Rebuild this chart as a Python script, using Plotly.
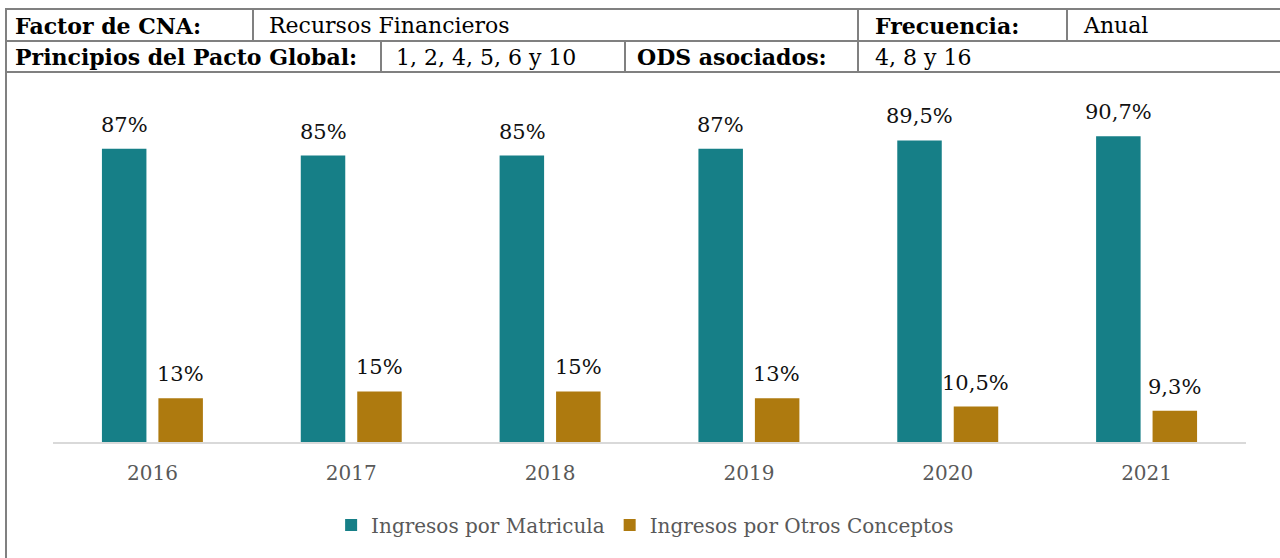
import plotly.graph_objects as go

years = ["2016", "2017", "2018", "2019", "2020", "2021"]
matricula = [87, 85, 85, 87, 89.5, 90.7]
otros = [13, 15, 15, 13, 10.5, 9.3]
series_names = ["Ingresos por Matricula", "Ingresos por Otros Conceptos"]
series_colors = ["#167F87", "#AE7A0F"]

header_row1 = ["Factor de CNA:", "Recursos Financieros", "Frecuencia:", "Anual"]
header_row2 = ["Principios del Pacto Global:", "1, 2, 4, 5, 6 y 10", "ODS asociados:", "4, 8 y 16"]
header_bold = [True, False, True, False]

W, H = 1280, 558
FONT = "DejaVu Serif"


def px(x):
    return x / W


def py(y):
    return 1 - y / H


def fmt(v):
    return f"{v:g}".replace(".", ",") + "%"


fig = go.Figure()
for name, vals, col in zip(series_names, [matricula, otros], series_colors):
    fig.add_trace(go.Bar(
        x=years, y=vals, name=name, marker=dict(color=col, line=dict(width=0)),
        hoverinfo="skip",
    ))

annotations = []
for k, vals in enumerate([matricula, otros]):
    shift = -28 if k == 0 else 28
    for i, v in enumerate(vals):
        annotations.append(dict(
            x=i, y=v, xref="x", yref="y", text=fmt(v), showarrow=False,
            xshift=shift, yshift=10, yanchor="bottom",
            font=dict(family=FONT, size=21, color="#111111"),
        ))

# header table
line_col = "#808080"
shapes = []
for yy in [9, 41, 72]:
    shapes.append(dict(type="line", xref="paper", yref="paper", x0=px(5), x1=px(1280),
                       y0=py(yy), y1=py(yy), line=dict(color=line_col, width=2)))
shapes.append(dict(type="line", xref="paper", yref="paper", x0=px(6), x1=px(6),
                   y0=py(8), y1=py(558), line=dict(color=line_col, width=2)))
for xx in [253, 858, 1067]:
    shapes.append(dict(type="line", xref="paper", yref="paper", x0=px(xx), x1=px(xx),
                       y0=py(9), y1=py(41), line=dict(color=line_col, width=2)))
for xx in [381, 625, 858]:
    shapes.append(dict(type="line", xref="paper", yref="paper", x0=px(xx), x1=px(xx),
                       y0=py(41), y1=py(72), line=dict(color=line_col, width=2)))

row1_x = [13, 267, 873, 1081]
row2_x = [13, 394, 635, 873]
for texts, xs, yc in [(header_row1, row1_x, 26), (header_row2, row2_x, 57)]:
    for t, xx, b in zip(texts, xs, header_bold):
        annotations.append(dict(
            x=px(xx), y=py(yc), xref="paper", yref="paper", xanchor="left", yanchor="middle",
            text=f"<b>{t}</b>" if b else t, showarrow=False,
            font=dict(family=FONT, size=22, color="#000000"),
        ))

fig.update_layout(
    width=W, height=H, margin=dict(l=0, r=0, t=0, b=0, autoexpand=False),
    paper_bgcolor="white", plot_bgcolor="white",
    barmode="group", bargap=0.432, bargroupgap=0.212,
    xaxis=dict(type="category", domain=[px(53), px(1246)], range=[-0.5, len(years) - 0.5],
               showline=True, linecolor="#D9D9D9",
               linewidth=2, ticks="outside", ticklen=12, tickcolor="rgba(0,0,0,0)",
               tickfont=dict(family=FONT, size=20, color="#595959"), showgrid=False,
               automargin=False, fixedrange=True),
    yaxis=dict(domain=[py(442), py(105)], range=[0, 100], visible=False, showgrid=False,
               automargin=False, fixedrange=True),
    showlegend=True,
    legend=dict(orientation="h", x=0.504, xanchor="center", y=py(525), yanchor="middle",
                font=dict(family=FONT, size=20, color="#595959"), itemwidth=30),
    shapes=shapes, annotations=annotations,
)

fig.write_html("out.html", config={"displayModeBar": False},
               post_script="document.body.style.margin='0';")
